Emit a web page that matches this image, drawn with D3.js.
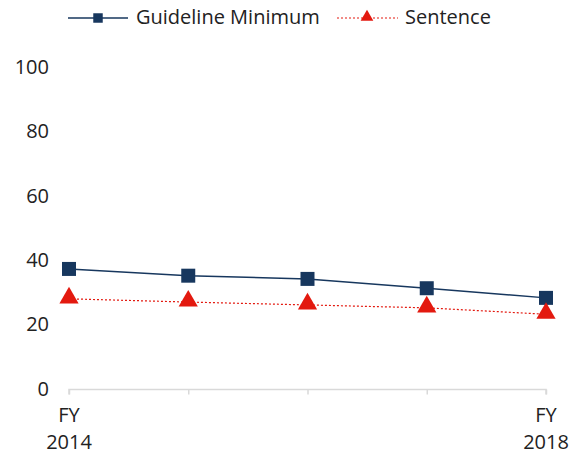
<!DOCTYPE html>
<html>
<head>
<meta charset="utf-8">
<script src="https://cdn.jsdelivr.net/npm/d3@7"></script>
<style>
body { margin: 0; background: #fff; }
text { font-family: "Century Gothic", "Open Sans", sans-serif; fill: #222; }
</style>
</head>
<body>
<div class="canvas"></div>
<script>
var years = ["2014", "2015", "2016", "2017", "2018"];
var guidelineMin = [37.5, 35.4, 34.4, 31.5, 28.5];
var sentence = [28.2, 27.2, 26.3, 25.4, 23.4];
var yTicks = [0, 20, 40, 60, 80, 100];

var width = 584, height = 454;

var svg = d3.select(".canvas")
	.append("svg")
	.attr("width", width)
	.attr("height", height);

var x = d3.scalePoint()
	.domain(years)
	.range([69, 546]);

var y = d3.scaleLinear()
	.domain([0, 100])
	.range([389.5, 68]);

// y labels, no axis line
svg.selectAll(".ylab")
	.data(yTicks)
	.enter().append("text")
	.attr("class", "ylab")
	.attr("x", 49)
	.attr("y", function(d){ return y(d) - 1; })
	.attr("dy", "0.35em")
	.attr("text-anchor", "end")
	.style("font-size", "20px")
	.text(function(d){ return d; });

// x axis
var xAxis = svg.append("g")
	.attr("transform", "translate(0," + y(0) + ")")
	.call(d3.axisBottom(x).tickSize(5).tickFormat(""));
xAxis.select(".domain").attr("stroke", "#d9d9d9").attr("stroke-width", 1.5)
	.attr("d", "M" + x(years[0]) + ",5V0H" + x(years[4]) + "V5");
xAxis.selectAll(".tick line").attr("stroke", "#d9d9d9").attr("stroke-width", 1.5);

// only first and last year get labels
[years[0], years[4]].forEach(function(yr){
	var t = svg.append("text")
		.attr("x", x(yr))
		.attr("y", 422)
		.attr("text-anchor", "middle")
		.style("font-size", "20px");
	t.append("tspan").attr("x", x(yr)).text("FY");
	t.append("tspan").attr("x", x(yr)).attr("dy", 27).text(yr);
});

var line = d3.line()
	.x(function(d, i){ return x(years[i]); })
	.y(function(d){ return y(d); });

// sentence line
svg.append("path")
	.datum(sentence)
	.attr("d", line)
	.attr("fill", "none")
	.attr("stroke", "#e3190f")
	.attr("stroke-width", 1.2)
	.attr("stroke-dasharray", "2,2");

// guideline line
svg.append("path")
	.datum(guidelineMin)
	.attr("d", line)
	.attr("fill", "none")
	.attr("stroke", "#17375e")
	.attr("stroke-width", 1.5);

var sq = d3.symbol().type(d3.symbolSquare).size(196);
var tri = d3.symbol().type(d3.symbolTriangle).size(160);

svg.selectAll(".gm")
	.data(guidelineMin)
	.enter().append("path")
	.attr("class", "gm")
	.attr("d", sq)
	.attr("transform", function(d, i){ return "translate(" + x(years[i]) + "," + y(d) + ")"; })
	.attr("fill", "#17375e");

svg.selectAll(".sn")
	.data(sentence)
	.enter().append("path")
	.attr("class", "sn")
	.attr("d", tri)
	.attr("transform", function(d, i){ return "translate(" + x(years[i]) + "," + (y(d) - 1) + ")"; })
	.attr("fill", "#e3190f");

// LEGEND
var leg = svg.append("g");
leg.append("line").attr("x1", 68).attr("x2", 128).attr("y1", 18).attr("y2", 18)
	.attr("stroke", "#17375e").attr("stroke-width", 1.5);
leg.append("path").attr("d", d3.symbol().type(d3.symbolSquare).size(90))
	.attr("transform", "translate(98,18)").attr("fill", "#17375e");
leg.append("text").attr("x", 136).attr("y", 17).attr("dy", "0.35em")
	.style("font-size", "20px").text("Guideline Minimum");

leg.append("line").attr("x1", 337).attr("x2", 398).attr("y1", 18).attr("y2", 18)
	.attr("stroke", "#e3190f").attr("stroke-width", 1).attr("stroke-dasharray", "2,2");
leg.append("path").attr("d", d3.symbol().type(d3.symbolTriangle).size(70))
	.attr("transform", "translate(367,17)").attr("fill", "#e3190f");
leg.append("text").attr("x", 405).attr("y", 17).attr("dy", "0.35em")
	.style("font-size", "20px").text("Sentence");
</script>
</body>
</html>
